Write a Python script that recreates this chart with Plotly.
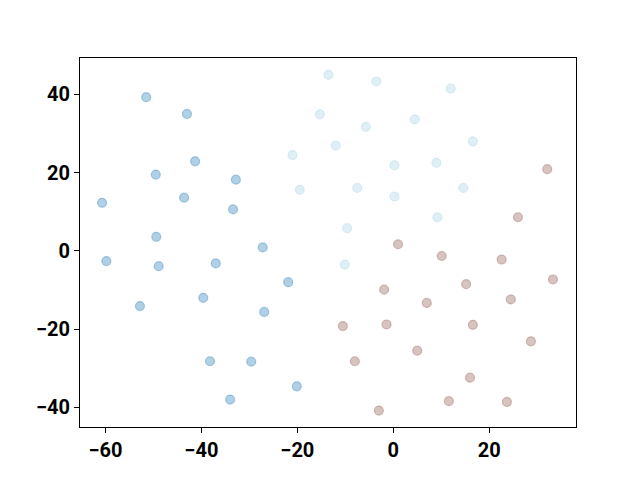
import plotly.graph_objects as go

blue_x = [-51.5, -43.0, -41.3, -49.5, -32.8, -60.7, -43.6, -33.4, -49.4, -59.8, -48.9,
          -37.0, -52.8, -39.6, -38.2, -29.6, -34.0, -27.2, -21.9, -26.9, -20.1]
blue_y = [39.3, 35.0, 22.9, 19.5, 18.2, 12.3, 13.6, 10.6, 3.6, -2.6, -3.9,
          -3.2, -14.1, -12.0, -28.2, -28.3, -38.0, 0.9, -8.0, -15.6, -34.6]

cyan_x = [-13.5, -3.5, -15.3, -5.7, -12.0, -21.0, 0.25, -19.5, -7.5, 0.25, -9.6, -10.1,
          12.0, 4.5, 16.6, 9.0, 14.6, 9.2]
cyan_y = [45.0, 43.3, 34.9, 31.7, 26.9, 24.5, 21.9, 15.6, 16.1, 13.9, 5.8, -3.5,
          41.5, 33.6, 28.0, 22.5, 16.1, 8.6]

brown_x = [1.0, -1.9, -10.5, -1.4, -8.0, -3.0, 32.1, 26.0, 10.1, 22.6, 15.2, 33.3,
           7.0, 24.5, 16.6, 5.0, 28.7, 16.0, 11.6, 23.7]
brown_y = [1.7, -9.9, -19.2, -18.8, -28.2, -40.8, 20.9, 8.6, -1.3, -2.2, -8.5, -7.3,
           -13.3, -12.4, -18.9, -25.5, -23.1, -32.4, -38.4, -38.6]

x_ticks = [-60, -40, -20, 0, 20]
y_ticks = [-40, -20, 0, 20, 40]

series = [
    (blue_x, blue_y, "rgba(31,119,180,0.35)"),
    (cyan_x, cyan_y, "rgba(173,216,230,0.4)"),
    (brown_x, brown_y, "rgba(140,86,75,0.35)"),
]

fig = go.Figure()
for xs, ys, col in series:
    fig.add_trace(go.Scatter(
        x=xs, y=ys, mode="markers",
        marker=dict(size=9, color=col, line=dict(color=col, width=1.2)),
        showlegend=False,
    ))

axis_common = dict(
    showgrid=False, zeroline=False, showline=True, linecolor="black", linewidth=1.1,
    mirror=True, ticks="outside", ticklen=5, tickwidth=1.1, tickcolor="black",
    tickfont=dict(family="Roboto", size=20, color="black", weight=700),
)

def fmt(v):
    return "\u2212" + str(-v) if v < 0 else str(v)

fig.update_layout(
    width=632, height=472,
    margin=dict(l=72, r=64, t=50, b=53, pad=0),
    plot_bgcolor="white", paper_bgcolor="white",
    xaxis=dict(range=[-65.3, 38.1], tickvals=x_ticks, ticktext=[fmt(v) for v in x_ticks], **axis_common),
    yaxis=dict(range=[-45.0, 49.3], tickvals=y_ticks, ticktext=[fmt(v) for v in y_ticks], **axis_common),
)

fig.write_html("out.html")
